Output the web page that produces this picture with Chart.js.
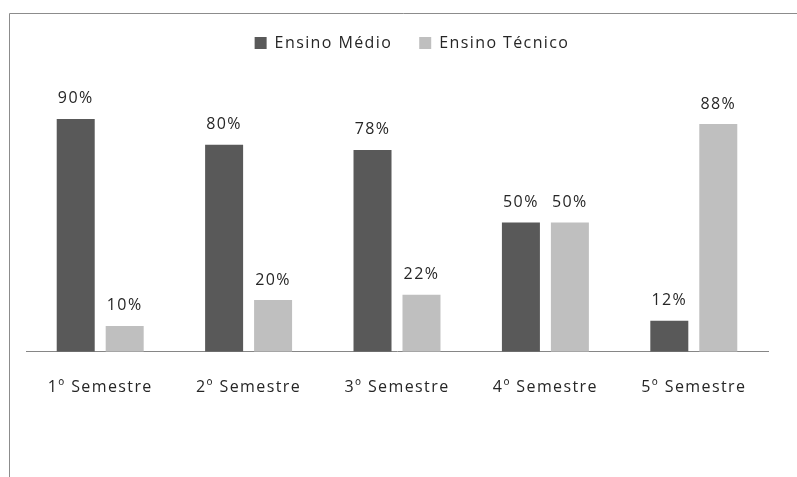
<!DOCTYPE html>
<html><head><meta charset="utf-8">
<script src="https://cdn.jsdelivr.net/npm/chart.js@4"></script>
<style>html,body{margin:0;padding:0;background:#fff}#wrap{width:797px;height:477px;position:relative}</style>
</head><body><div id="wrap"><canvas id="c" width="797" height="477"></canvas></div>
<script>
const categories = ["1º Semestre","2º Semestre","3º Semestre","4º Semestre","5º Semestre"];
const ensinoMedio = [90,80,78,50,12];
const ensinoTecnico = [10,20,22,50,88];
const seriesNames = ["Ensino Médio","Ensino Técnico"];
const FONT = "'Open Sans', sans-serif";
const SPACING = '1.4px';

const frame = {
  id:'frame',
  beforeUpdate(chart){ chart.ctx.letterSpacing = SPACING; },
  beforeDraw(chart){
    const ctx = chart.ctx;
    ctx.letterSpacing = SPACING;
    ctx.save();
    ctx.strokeStyle = '#8c8c8c';
    ctx.lineWidth = 1;
    ctx.beginPath();
    ctx.moveTo(9.5, 477); ctx.lineTo(9.5, 13.5); ctx.lineTo(797, 13.5);
    ctx.stroke();
    ctx.restore();
  }
};
const legendSpace = {
  id:'legendSpace',
  beforeInit(chart){
    const lg = chart.legend;
    const fit = lg.fit;
    lg.fit = function(){ fit.call(lg); this.height += 32; };
    const draw = lg.draw;
    lg.draw = function(){
      const ctx = chart.ctx;
      ctx.save(); ctx.translate(15, 0); draw.call(lg); ctx.restore();
    };
  }
};
const valueLabels = {
  id:'valueLabels',
  afterDatasetsDraw(chart){
    const ctx = chart.ctx;
    ctx.save();
    ctx.font = "16px " + FONT;
    ctx.fillStyle = '#262626';
    ctx.textAlign = 'center';
    ctx.textBaseline = 'middle';
    chart.data.datasets.forEach((ds,i)=>{
      chart.getDatasetMeta(i).data.forEach((el,j)=>{
        ctx.fillText(ds.data[j] + '%', el.x, el.y - 20);
      });
    });
    ctx.restore();
  }
};

new Chart(document.getElementById('c'), {
  type:'bar',
  data:{
    labels: categories,
    datasets:[
      {label: seriesNames[0], data: ensinoMedio, backgroundColor:'#595959', categoryPercentage:0.66, barPercentage:0.776},
      {label: seriesNames[1], data: ensinoTecnico, backgroundColor:'#bfbfbf', categoryPercentage:0.66, barPercentage:0.776}
    ]
  },
  options:{
    responsive:false,
    animation:false,
    layout:{padding:{left:26,right:29,top:8,bottom:54}},
    plugins:{
      legend:{
        display:true,
        labels:{boxWidth:12,boxHeight:12,color:'#262626',font:{family:FONT,size:16},padding:27}
      },
      tooltip:{enabled:false}
    },
    scales:{
      x:{
        grid:{display:false, drawTicks:false},
        border:{display:true,color:'#868686',width:1},
        ticks:{color:'#262626',font:{family:FONT,size:16},padding:26,maxRotation:0}
      },
      y:{display:false,min:0,max:100}
    }
  },
  plugins:[frame,legendSpace,valueLabels]
});
</script></body></html>
